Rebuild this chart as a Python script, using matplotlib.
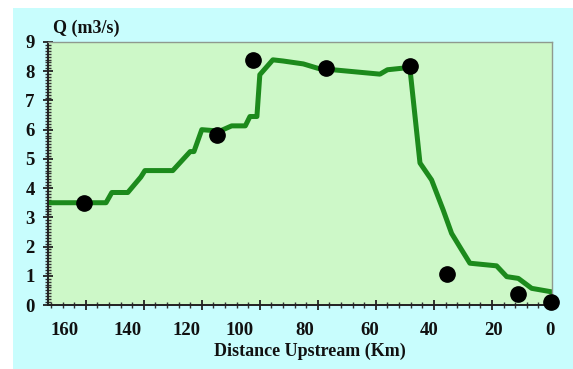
import matplotlib
matplotlib.use("Agg")
import matplotlib.pyplot as plt
from matplotlib.patches import Rectangle
from matplotlib.ticker import MultipleLocator
from matplotlib.transforms import ScaledTranslation

# Simulated discharge along the river (line)
dist_km = [173, 153, 151, 145.5, 141, 139.6, 130, 124, 122.7, 120, 113.8,
           109.7, 105, 103.4, 101, 100, 95.5, 92, 85, 80, 74.8, 58.6, 56,
           48.3, 44.8, 40.8, 36.8, 33.9, 30.4, 27.6, 18.4, 14.9, 10.9, 6.3, 0]
q_sim = [3.5, 3.5, 3.85, 3.85, 4.38, 4.6, 4.6, 5.25, 5.25, 6.0, 5.95,
         6.13, 6.13, 6.45, 6.45, 7.88, 8.39, 8.35, 8.25, 8.1, 8.05, 7.9, 8.05,
         8.13, 4.86, 4.28, 3.25, 2.45, 1.88, 1.43, 1.34, 0.97, 0.91, 0.57, 0.46]

# Measured discharge (dots)
obs_km = [160.6, 114.8, 102.4, 77.3, 48.3, 35.6, 11.1, -0.2]
obs_q = [3.5, 5.82, 8.39, 8.1, 8.18, 1.06, 0.38, 0.11]

x_ticks = [160, 140, 120, 100, 80, 60, 40, 20, 0]
# the printed labels sit a little off their ticks in the source picture (px)
x_label_shift = [-21, -16, -15, -20, -13, -6, -5, 2, 0]

SERIF = ["Liberation Serif", "DejaVu Serif"]
PANEL = "#c8fdfd"
PLOT_BG = "#cdf8c8"
GREEN = "#1c8a1c"

fig = plt.figure(figsize=(5.73, 3.69), dpi=100, facecolor="white")
fig.patches.append(Rectangle((13 / 573, 0), 1 - 13 / 573, 1 - 8 / 369,
                             transform=fig.transFigure, facecolor=PANEL,
                             edgecolor="none", zorder=-10))

ax = fig.add_axes([48 / 573, 64 / 369, 504 / 573, 263 / 369])
ax.set_facecolor(PLOT_BG)

ax.plot(dist_km, q_sim, color=GREEN, lw=3.6, solid_joinstyle="round", zorder=2)
ax.plot(obs_km, obs_q, "o", color="black", ms=11, clip_on=False, zorder=3)

ax.set_xlim(173, -0.7)
ax.set_ylim(0, 9)

ax.set_xticks(x_ticks)
ax.xaxis.set_minor_locator(MultipleLocator(4))
ax.yaxis.set_major_locator(MultipleLocator(1))
ax.yaxis.set_minor_locator(MultipleLocator(0.1))

ax.tick_params(which="major", direction="inout", length=7, width=1.3,
               color="#222222")
ax.tick_params(which="minor", direction="inout", length=4, width=1.0,
               color="#333333")
ax.tick_params(axis="x", which="major", pad=9)
ax.tick_params(axis="y", which="major", pad=6)
ax.tick_params(right=False, top=False, which="both")

for lab in ax.get_xticklabels() + ax.get_yticklabels():
    lab.set_fontfamily(SERIF)
    lab.set_fontweight("bold")
    lab.set_fontsize(13.5)
    lab.set_color("#111111")

for lab, dx in zip(ax.get_xticklabels(), x_label_shift):
    lab.set_transform(lab.get_transform()
                      + ScaledTranslation(dx / 100, 0, fig.dpi_scale_trans))

for side in ("left", "bottom"):
    ax.spines[side].set_color("#222222")
    ax.spines[side].set_linewidth(1.4)
for side in ("top", "right"):
    ax.spines[side].set_color("#8f9a8f")
    ax.spines[side].set_linewidth(1.0)

ax.set_xlabel("Distance Upstream (Km)", family=SERIF, fontweight="bold",
              fontsize=13, color="#111111")
ax.xaxis.set_label_coords(0.52, -0.145)
ax.xaxis.label.set_va("top")

ax.text(0.01, 1.02, "Q (m3/s)", transform=ax.transAxes, family=SERIF,
        fontweight="bold", fontsize=13, color="#111111",
        ha="left", va="bottom")

fig.savefig("out.png", dpi=100, facecolor="white")
